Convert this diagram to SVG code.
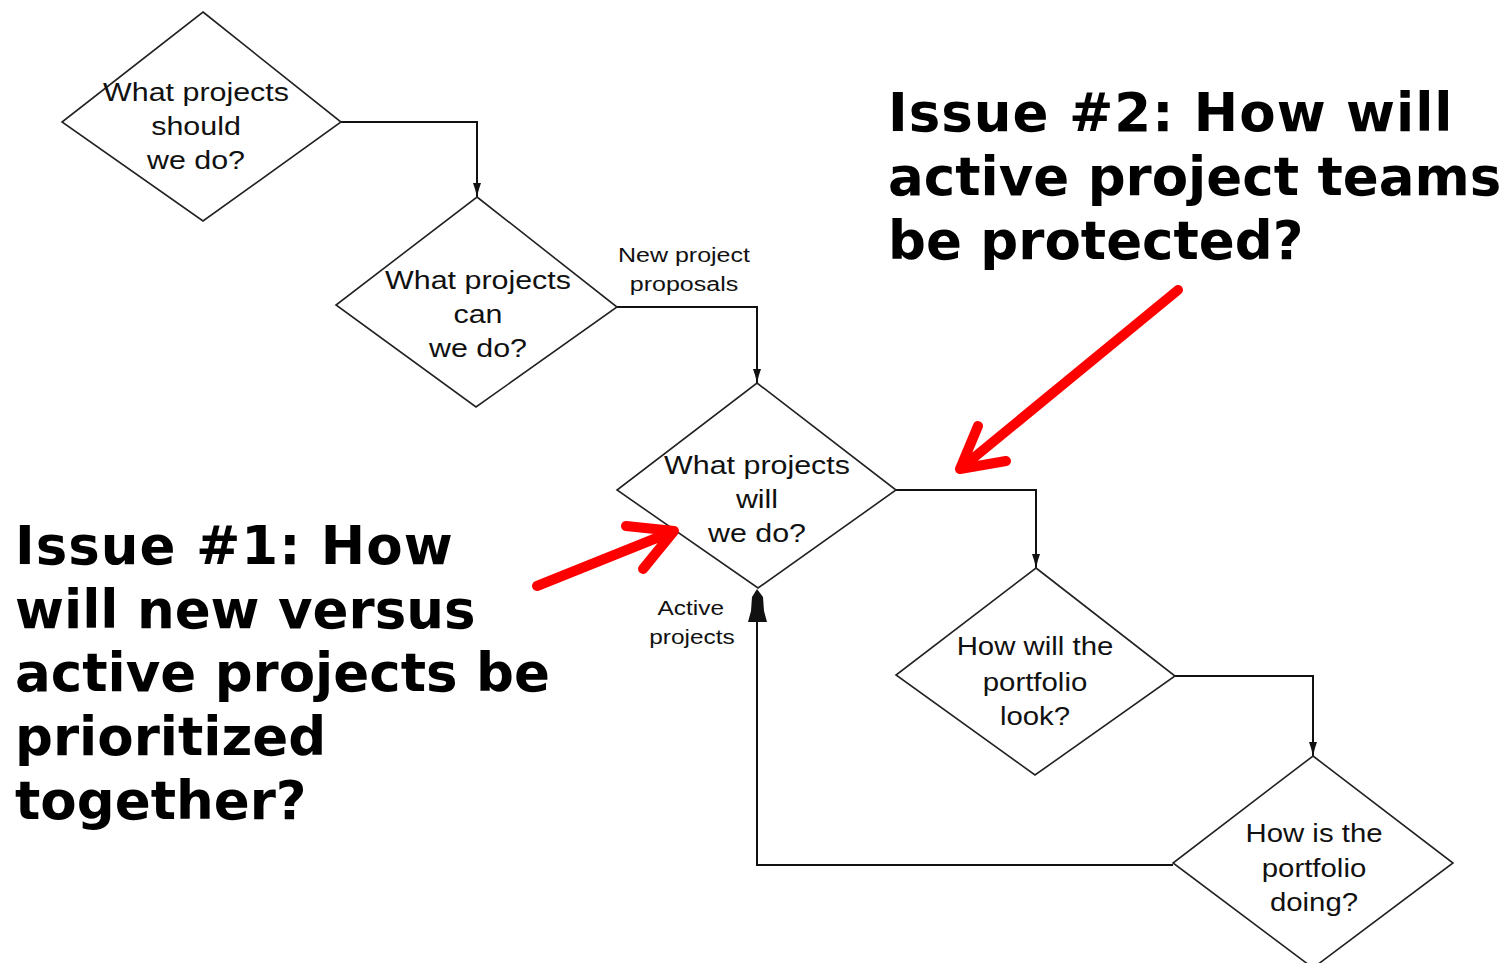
<svg xmlns="http://www.w3.org/2000/svg" width="1509" height="963" viewBox="0 0 1509 963">
<style>
.dia{fill:#fff;stroke:#222;stroke-width:1.6}
.dt{font-family:"Liberation Sans",Arial,sans-serif;font-size:26px;fill:#111;text-anchor:middle}
.lb{font-family:"Liberation Sans",Arial,sans-serif;font-size:20px;fill:#111;text-anchor:middle}
.big{font-family:"DejaVu Sans",Verdana,sans-serif;font-weight:bold;font-size:53px;fill:#000}
.con{fill:none;stroke:#111;stroke-width:2}
.red{fill:none;stroke:#f00;stroke-width:10;stroke-linecap:round;stroke-linejoin:round}
</style>
<defs>
<marker id="ah" viewBox="0 0 10 14" refX="5" refY="14" markerWidth="10" markerHeight="14" markerUnits="userSpaceOnUse" orient="0">
<path d="M1,0 L9,0 L7,6 L5,14 L3,6 Z" fill="#111"/>
</marker>
</defs>
<rect width="1509" height="963" fill="#fff"/>

<g id="connectors">
<path class="con" d="M341,122 H477 V197" marker-end="url(#ah)"/>
<path class="con" d="M617,307 H757 V383" marker-end="url(#ah)"/>
<path class="con" d="M896,490 H1036 V568" marker-end="url(#ah)"/>
<path class="con" d="M1175,676 H1313 V756" marker-end="url(#ah)"/>
<path class="con" d="M1173,865 H757 V620"/>
<polygon points="757,589 752,597 751,611 748,622 767,622 764,611 763,597" fill="#111"/>
</g>

<g id="n1">
<polygon class="dia" points="203,12 341,122 203,221 62,122"/>
<text class="dt" transform="translate(196,0) scale(1.17,1)"><tspan x="0" y="101">What projects</tspan><tspan x="0" y="135">should</tspan><tspan x="0" y="169">we do?</tspan></text>
</g>

<g id="n2">
<polygon class="dia" points="477,197 617,307 476,407 336,305"/>
<text class="dt" transform="translate(478,0) scale(1.17,1)"><tspan x="0" y="289">What projects</tspan><tspan x="0" y="323">can</tspan><tspan x="0" y="357">we do?</tspan></text>
</g>

<g id="n3">
<polygon class="dia" points="757,383 896,490 758,588 617,490"/>
<text class="dt" transform="translate(757,0) scale(1.17,1)"><tspan x="0" y="474">What projects</tspan><tspan x="0" y="508">will</tspan><tspan x="0" y="542">we do?</tspan></text>
</g>

<g id="n4">
<polygon class="dia" points="1036,568 1175,676 1035,775 896,675"/>
<text class="dt" transform="translate(1035,0) scale(1.13,1)"><tspan x="0" y="655">How will the</tspan><tspan x="0" y="691">portfolio</tspan><tspan x="0" y="725">look?</tspan></text>
</g>

<g id="n5">
<polygon class="dia" points="1313,756 1453,863 1313,968 1173,863"/>
<text class="dt" transform="translate(1314,0) scale(1.13,1)"><tspan x="0" y="842">How is the</tspan><tspan x="0" y="877">portfolio</tspan><tspan x="0" y="911">doing?</tspan></text>
</g>

<g id="labels">
<text class="lb" transform="translate(684,0) scale(1.25,1)"><tspan x="0" y="262">New project</tspan><tspan x="0" y="291">proposals</tspan></text>
<text class="lb" transform="translate(692,0) scale(1.22,1)"><tspan x="-1" y="615">Active</tspan><tspan x="0" y="644">projects</tspan></text>
</g>

<g id="issue1">
<text class="big"><tspan x="15" y="564" letter-spacing="1">Issue #1: How</tspan><tspan x="15" y="628">will new versus</tspan><tspan x="15" y="691">active projects be</tspan><tspan x="15" y="755">prioritized</tspan><tspan x="15" y="819">together?</tspan></text>
<path class="red" d="M537,586 L674,531 M626,526 L674,531 L643,569"/>
</g>

<g id="issue2">
<text class="big"><tspan x="888" y="131" letter-spacing="1">Issue #2: How will</tspan><tspan x="888" y="195">active project teams</tspan><tspan x="888" y="259">be protected?</tspan></text>
<path class="red" d="M1178,290 L960,469 M978,426 L960,469 L1006,461"/>
</g>
</svg>
